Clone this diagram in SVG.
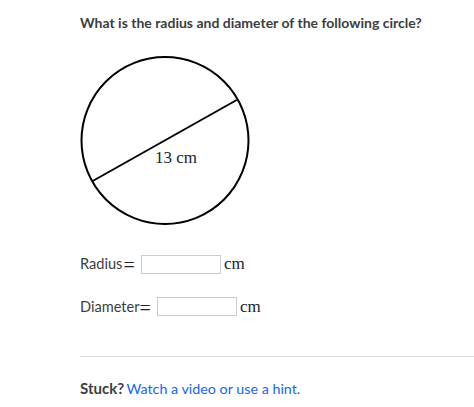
<svg xmlns="http://www.w3.org/2000/svg" width="474" height="407" viewBox="0 0 474 407">
<style>
.sans{font-family:Lato,"Liberation Sans",sans-serif;fill:#3b3e40}
.serif{font-family:"Liberation Serif","DejaVu Serif",serif;fill:#21242c}
.box{fill:#fff;stroke:#ccc;stroke-width:1}
</style>
<rect width="474" height="407" fill="#fff"/>
<text class="sans" x="80" y="28" font-size="14" font-weight="bold">What is the radius and diameter of the following circle?</text>
<g id="circle">
<circle cx="165" cy="140.5" r="83.5" fill="none" stroke="#000" stroke-width="2"/>
</g>
<g id="connectors">
<line x1="92.7" y1="181" x2="236.7" y2="100" stroke="#000" stroke-width="2"/>
</g>
<text class="serif" x="176" y="163" font-size="17" text-anchor="middle">13 cm</text>
<g id="radius">
<text class="sans" x="80" y="269" font-size="14.6">Radius</text>
<text class="serif" x="123.5" y="271.5" font-size="20">=</text>
<rect class="box" x="141.5" y="255.5" width="79" height="18"/>
<text class="serif" x="224" y="269" font-size="17">cm</text>
</g>
<g id="diameter">
<text class="sans" x="80" y="312" font-size="14.6">Diameter</text>
<text class="serif" x="139.5" y="314.5" font-size="20">=</text>
<rect class="box" x="157.5" y="297.5" width="79" height="18"/>
<text class="serif" x="240" y="312" font-size="17">cm</text>
</g>
<line x1="80" y1="356.5" x2="474" y2="356.5" stroke="#ddd" stroke-width="1"/>
<text class="sans" x="80" y="394" font-size="15" font-weight="bold">Stuck?</text>
<text x="126.5" y="394" font-size="14.3" fill="#1865f2" style="font-family:Lato,'Liberation Sans',sans-serif">Watch a video or use a hint.</text>
</svg>
